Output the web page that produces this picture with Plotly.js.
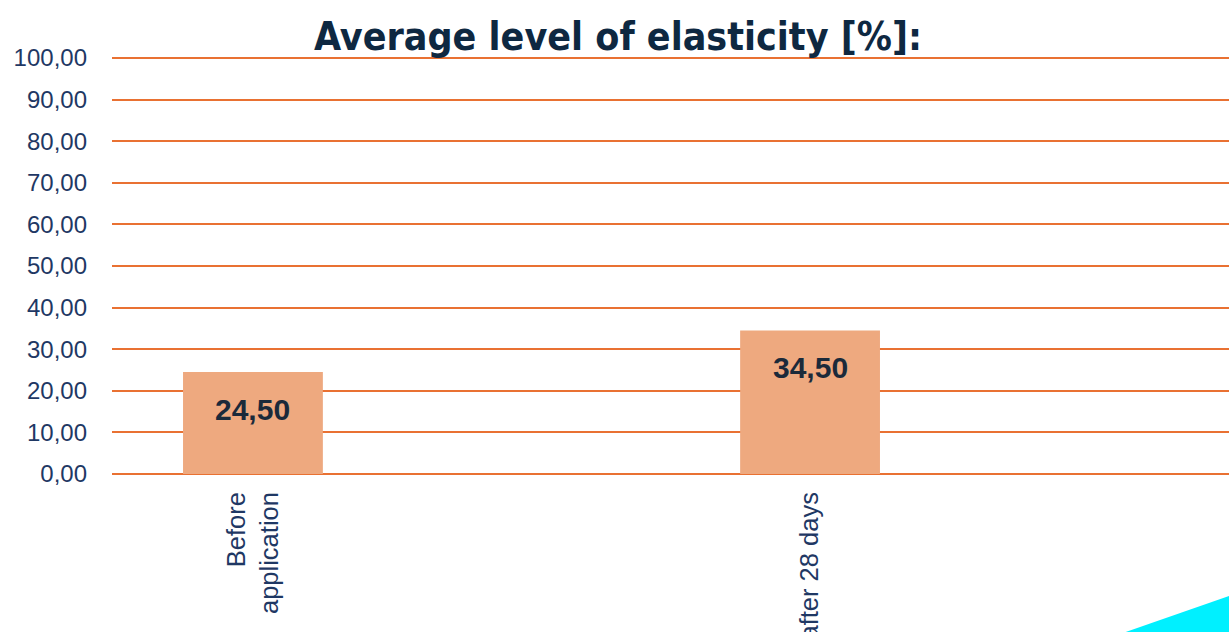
<!DOCTYPE html>
<html>
<head>
<meta charset="utf-8">
<script src="https://cdn.plot.ly/plotly-3.0.1.min.js"></script>
<style>html,body{margin:0;padding:0;background:#fff;}#chart{width:1229px;height:632px;}</style>
</head>
<body>
<div id="chart"></div>
<script>
var categories = ["Before<br>application", "after 28 days"];
var values = [24.50, 34.50];
var yTicks = [0, 10, 20, 30, 40, 50, 60, 70, 80, 90, 100];
var yTickLabels = ["0,00","10,00","20,00","30,00","40,00","50,00","60,00","70,00","80,00","90,00","100,00"];

function fmt(v){ return v.toFixed(2).replace('.', ','); }

var trace = {
  type: 'bar',
  x: categories,
  y: values,
  width: 0.251,
  marker: {color: '#EEA97F'},
  hoverinfo: 'none'
};

var annotations = categories.map(function(c, i){
  return {x: c, y: values[i], xref: 'x', yref: 'y', text: '<b>' + fmt(values[i]) + '</b>',
    showarrow: false, yanchor: 'middle', yshift: -37,
    font: {family: 'Liberation Sans, Arial, sans-serif', size: 30, color: '#1B2A3A'}};
});

var layout = {
  width: 1229, height: 632,
  margin: {l: 112, r: 0, t: 56, b: 156, pad: 0},
  paper_bgcolor: '#ffffff', plot_bgcolor: '#ffffff',
  showlegend: false,
  title: {text: 'Average level of elasticity [%]:', x: 618/1229, xanchor: 'center', xref: 'container',
    y: 1 - 36/632, yanchor: 'middle', yref: 'container',
    font: {family: 'DejaVu Sans Condensed, Roboto, sans-serif', size: 39, color: '#0E2841', weight: 'bold'}},
  xaxis: {type: 'category', range: [-0.253, 1.752], showgrid: false, zeroline: false, showline: false,
    tickangle: -90, ticks: '', ticklen: 0, ticklabelstandoff: 10,
    tickfont: {family: 'Liberation Sans, Arial, sans-serif', size: 25.5, color: '#1F3864'}},
  yaxis: {range: [-0.5, 100.5], tickvals: yTicks, ticktext: yTickLabels, showgrid: true,
    gridcolor: '#E97132', gridwidth: 2, zeroline: true, zerolinecolor: '#E97132', zerolinewidth: 2,
    showline: false, ticks: '', ticklabelstandoff: 24,
    tickfont: {family: 'Liberation Sans, Arial, sans-serif', size: 24, color: '#1F3864'}},
  annotations: annotations,
  shapes: [{type: 'path', xref: 'paper', yref: 'paper', layer: 'above',
    path: 'M 0.9024 -0.3762 L 1.01 -0.2762 L 1.01 -0.40 Z', fillcolor: '#00F0FF', line: {width: 0}}]
};

Plotly.newPlot('chart', [trace], layout, {displayModeBar: false, staticPlot: true});
</script>
</body>
</html>
